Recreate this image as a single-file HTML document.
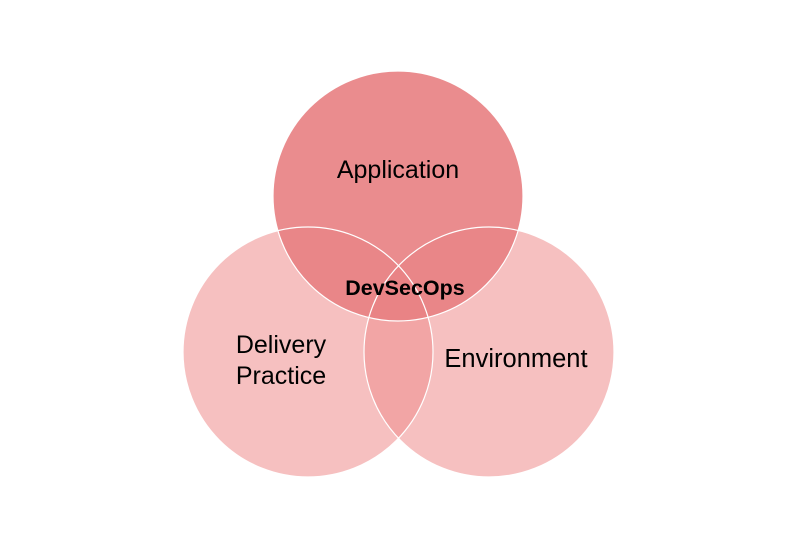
<!DOCTYPE html>
<html><head><style>body{margin:0;background:#fff}svg{display:block}</style></head>
<body>
<svg width="800" height="551" viewBox="0 0 800 551" xmlns="http://www.w3.org/2000/svg">
<circle cx="308" cy="352" r="125" fill="rgb(239,145,145)" fill-opacity="0.57"/>
<circle cx="489" cy="352" r="125" fill="rgb(239,145,145)" fill-opacity="0.57"/>
<circle cx="398" cy="196" r="125" fill="rgb(232,128,130)" fill-opacity="0.9"/>
<g stroke="#fff" stroke-width="1.2" fill="none">
<circle cx="308" cy="352" r="125"/>
<circle cx="489" cy="352" r="125"/>
<circle cx="398" cy="196" r="125"/>
</g>
<g font-family="Liberation Sans, sans-serif" fill="#000" text-anchor="middle">
<text x="398" y="178" font-size="25">Application</text>
<text x="405" y="295" font-size="21.5" font-weight="bold">DevSecOps</text>
<text x="281" y="353" font-size="25">Delivery</text>
<text x="281" y="384" font-size="25">Practice</text>
<text x="516" y="367" font-size="25.5">Environment</text>
</g>
</svg>
</body></html>
